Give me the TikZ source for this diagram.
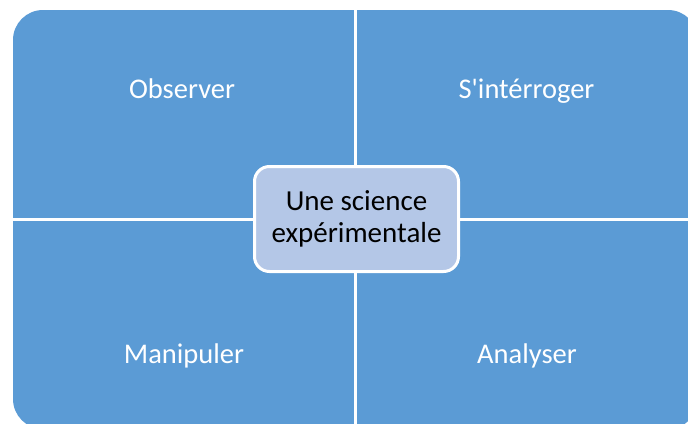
\documentclass[tikz,border=0pt]{standalone}
\usepackage{fontspec}
\setmainfont{Carlito}[Ligatures=TeXOff]
\definecolor{quadblue}{HTML}{5B9BD5}
\definecolor{centerblue}{HTML}{B4C7E7}
\tikzset{
  quadlabel/.style={text=white, font=\fontsize{28.5}{32}\selectfont, anchor=base, inner sep=0pt},
  centerbox/.style={draw=white, line width=3pt, fill=centerblue, rounded corners=15pt,
    minimum width=204pt, minimum height=105pt, align=center, text=black,
    font=\fontsize{29}{32}\selectfont, inner sep=0pt},
  gapline/.style={draw=white, line width=3pt}
}
\begin{document}
\begin{tikzpicture}[x=1pt,y=-1pt]
\useasboundingbox (0,0) rectangle (688,423);
\begin{scope}
\clip (0,0) rectangle (688,423);
\fill[quadblue, rounded corners=30pt] (13,10) rectangle (698,429);
\coordinate (vtop) at (355.5,0);
\coordinate (vbot) at (355.5,430);
\coordinate (hleft) at (0,219.5);
\coordinate (hright) at (700,219.5);
\draw[gapline] (vtop) -- (vbot);
\draw[gapline] (hleft) -- (hright);
\end{scope}
\node[quadlabel] (obs) at (182,98) {Observer};
\node[quadlabel] (sint) at (526.5,98) {S'intérroger};
\node[quadlabel] (manip) at (184,363) {Manipuler};
\node[quadlabel] (anal) at (527,363) {Analyser};
\node[centerbox] (center) at (356.5,219) {Une science\\expérimentale};
\end{tikzpicture}
\end{document}
